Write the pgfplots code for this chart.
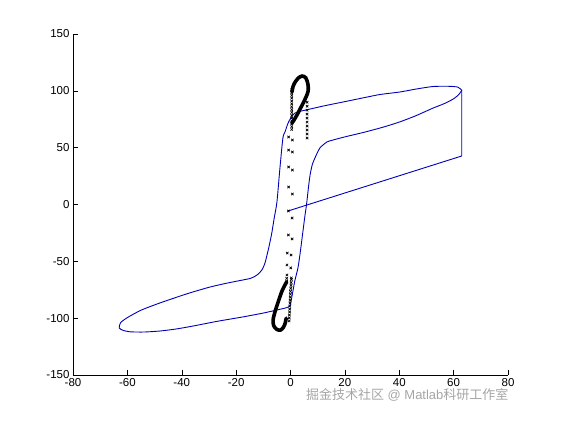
\documentclass[border=0pt]{standalone}
\usepackage{pgfplots}
\pgfplotsset{compat=1.18}
\usepackage{fontspec}
\setmainfont{Liberation Sans}
\newfontfamily\cjk{Noto Sans CJK SC}
\definecolor{mblue}{RGB}{0,0,185}
\definecolor{wmgray}{RGB}{165,165,165}

\begin{document}
\begin{tikzpicture}
\path[use as bounding box] (-73pt,-45pt) rectangle (488pt,375pt);
\begin{axis}[
    scale only axis,
    width=435pt, height=341pt,
    xmin=-80, xmax=80, ymin=-150, ymax=150,
    xtick={-80,-60,...,80},
    ytick={-150,-100,...,150},
    axis lines*=left,
    tick align=inside,
    major tick length=5pt,
    tick style={black, line width=0.5pt},
    axis line style={black, line width=0.6pt},
    ticklabel style={font=\fontsize{11.5}{12}\selectfont},
    /pgf/number format/assume math mode=true,
    clip=false,
]

%% initial line and vertical step
\addplot[mblue, line width=0.9pt] coordinates {
  (-0.9,-5.7) (63,42.7) (63,100.5)
};

%% hysteresis loop: descending branch, then ascending branch
\addplot[mblue, line width=0.9pt, smooth, tension=0.4] coordinates {
  (63,100.5) (61.5,103.3) (58,104) (52.4,103.8) (46,101.5) (40.3,99)
  (33,96.8) (28.1,94.5) (20,90.5) (12,86.6) (6,83.3) (3.5,82) (1.7,80.5)
  (0.3,77) (-1,71) (-2,64) (-2.8,58.5) (-3.9,31.8) (-5,2) (-6,-12)
  (-6.9,-25.3) (-8,-38) (-9.4,-51.6) (-10.5,-57.5) (-12.3,-62) (-14.5,-64.8)
  (-17.5,-66.4) (-23,-69) (-29.6,-72.6) (-38,-78.5) (-48,-86.6) (-55,-93)
  (-60.2,-99.8) (-62.5,-104) (-63,-108.6) (-61.5,-110.8) (-59,-112)
  (-54,-112.2) (-48,-111.3) (-42,-109.5) (-35.8,-106.9) (-27,-102.8)
  (-17.5,-98.9) (-10,-95.5) (-5,-92.8) (-1.5,-90.8) (-0.2,-89) (0.6,-80)
  (1.6,-67) (2.8,-55) (3.7,-40) (4.5,-25) (5.3,-10) (5.9,0) (6.6,15)
  (7.2,26) (8,35) (9,41) (10.8,49.7) (13.4,55) (15.6,56.7) (20,59.5)
  (27,63.5) (34,68) (40,72.5) (46,78) (52.4,84.8) (56.5,88.7) (60,93)
  (62,97) (63,100.5)
};

%% dense parts of the marker trace (upper and lower loops)
\addplot[black, line width=3.6pt, smooth, line cap=round] coordinates {
  (0.55,99) (0.9,103.5) (1.65,107.5) (2.9,111.3) (4.3,113) (5.6,111.5)
  (6.4,106) (6.5,100) (5.8,95) (4.6,89) (3.3,83) (2.2,78) (1.2,74) (0.5,71.5)
};
\addplot[black, line width=3.6pt, smooth, line cap=round] coordinates {
  (-1.4,-68) (-2.3,-72) (-3.2,-76.5) (-4.5,-85.5) (-5.7,-94.3) (-6.4,-101.5)
  (-6.2,-106.5) (-5.1,-109.8) (-3.7,-110.5) (-2.6,-108) (-1.9,-104) (-1.6,-100)
};

%% individual markers
\addplot[only marks, mark=x, mark size=1.7pt, black, line width=0.7pt] coordinates {
  (0.45,66) (0.45,68.5) (0.45,71) (0.45,73.5) (0.45,76) (0.45,78.5)
  (0.45,81) (0.45,83.5) (0.45,86) (0.45,88.5) (0.45,91) (0.45,93.5)
  (0.45,96) (0.45,98.5) (0.45,101)
  (6.1,90) (6.1,86.5) (6.1,83) (6.1,79.5) (6.1,76) (6.1,72.5) (6.1,69)
  (6.1,65.5) (6.1,62) (6.1,58.5)
  (-0.7,59.4) (0.7,56.7) (-0.7,47.9) (0.7,46.2) (-0.7,33.0) (0.7,30.3)
  (-0.7,15.4) (0.7,9.2) (-0.8,-5.7) (0.6,-11.9) (-0.8,-26.8) (0.6,-30.3)
  (-1.2,-42.7) (0.2,-44.4) (-1.3,-53.2) (0.1,-55.8) (-1.3,-62.0) (0.3,-64.6)
  (-1.4,-65) (-1.4,-67.5)
  (0.3,-66) (0.25,-68.6) (0.2,-71.2) (0.1,-73.8) (0,-76.4) (-0.05,-79)
  (-0.1,-81.6) (-0.15,-84.2) (-0.2,-86.8) (-0.25,-89.4) (-0.3,-92)
  (-0.35,-94.6) (-0.4,-97.2) (-0.45,-99.8) (-0.5,-102.4)
};

\end{axis}
\node[anchor=east, text=wmgray, font=\fontsize{13}{14}\selectfont]
  at (439pt,-20pt) {{\cjk 掘金技术社区} @ Matlab{\cjk 科研工作室}};
\end{tikzpicture}
\end{document}
